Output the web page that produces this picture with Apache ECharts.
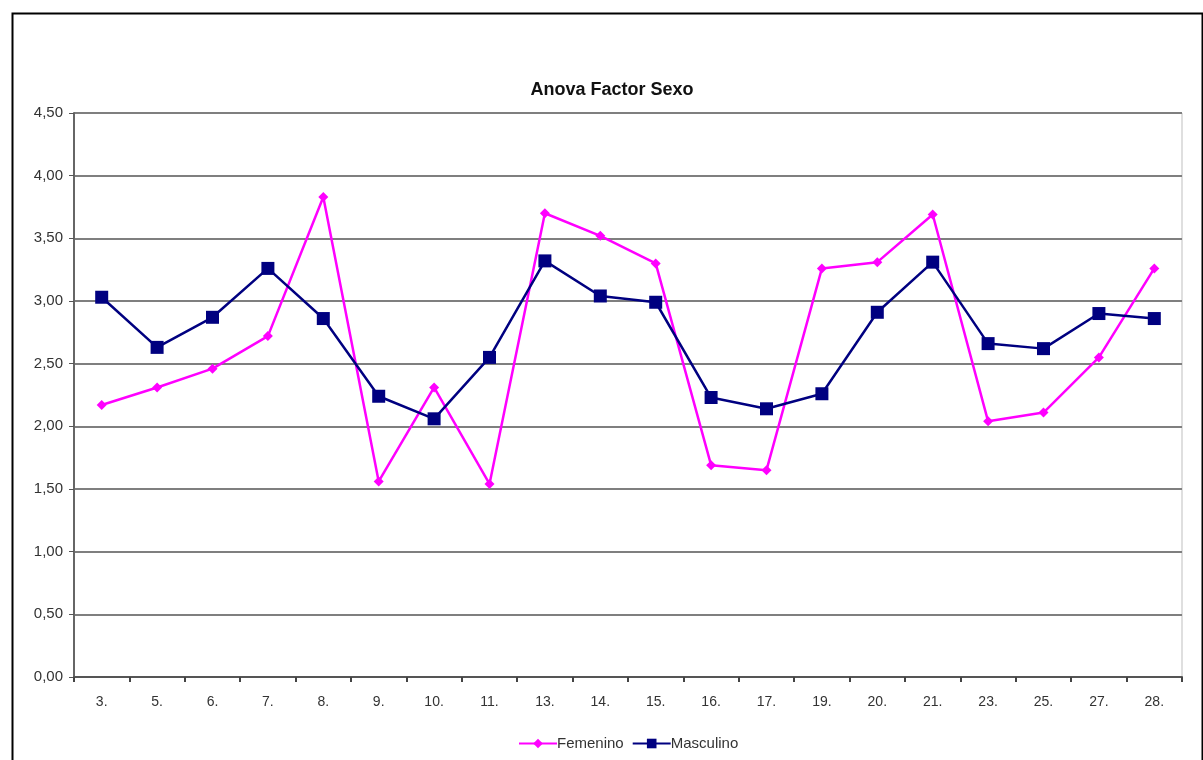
<!DOCTYPE html>
<html>
<head>
<meta charset="utf-8">
<script src="https://cdn.jsdelivr.net/npm/echarts@6/dist/echarts.min.js"></script>
<style>
html,body{margin:0;padding:0;background:#fff;}
#chart{width:1203px;height:760px;}
</style>
</head>
<body>
<div id="chart"></div>
<script>
var categories = ['3.','5.','6.','7.','8.','9.','10.','11.','13.','14.','15.','16.','17.','19.','20.','21.','23.','25.','27.','28.'];
var femenino = [2.17,2.31,2.46,2.72,3.83,1.56,2.31,1.54,3.70,3.52,3.30,1.69,1.65,3.26,3.31,3.69,2.04,2.11,2.55,3.26];
var masculino = [3.03,2.63,2.87,3.26,2.86,2.24,2.06,2.55,3.32,3.04,2.99,2.23,2.14,2.26,2.91,3.31,2.66,2.62,2.90,2.86];

var chart = echarts.init(document.getElementById('chart'));
chart.setOption({
  animation: false,
  textStyle: {fontFamily: 'Liberation Sans, Arial, sans-serif'},
  graphic: [{
    type: 'rect', left: 10, top: 11, z: 100,
    shape: {width: 1190, height: 800},
    style: {fill: 'none', stroke: '#000', lineWidth: 2}
  }],
  title: {
    text: 'Anova Factor Sexo', left: 607, top: 76, textAlign: 'center',
    textStyle: {fontSize: 18, fontWeight: 'bold', color: '#111', fontFamily: 'Liberation Sans, Arial, sans-serif'}
  },
  legend: {
    top: 731, left: 513, itemGap: 8, itemWidth: 38, itemHeight: 12,
    textStyle: {fontSize: 15, color: '#333', padding: [0,0,0,-5]},
    data: ['Femenino','Masculino']
  },
  grid: {left: 74, right: 21, top: 113, bottom: 83, show: true, borderColor: '#bfbfbf', borderWidth: 1},
  xAxis: {
    type: 'category', data: categories, boundaryGap: true,
    axisLine: {lineStyle: {color: '#555', width: 2}},
    axisTick: {show: true, length: 5, lineStyle: {color: '#444', width: 2}},
    axisLabel: {fontSize: 14, color: '#333', margin: 18}
  },
  yAxis: {
    type: 'value', min: 0, max: 4.5, interval: 0.5,
    axisLine: {show: true, lineStyle: {color: '#666', width: 2}},
    axisTick: {show: true, length: 5, lineStyle: {color: '#555'}},
    axisLabel: {fontSize: 15, color: '#333', margin: 11, formatter: function(v){return v.toFixed(2).replace('.', ',');}},
    splitLine: {lineStyle: {color: '#7f7f7f', width: 2}}
  },
  series: [{
    name: 'Femenino', type: 'line', data: femenino,
    symbol: 'diamond', symbolSize: 10,
    lineStyle: {color: '#ff00ff', width: 2.5},
    itemStyle: {color: '#ff00ff'}
  },{
    name: 'Masculino', type: 'line', data: masculino,
    symbol: 'rect', symbolSize: 13,
    lineStyle: {color: '#000080', width: 2.5},
    itemStyle: {color: '#000080'}
  }]
});
</script>
</body>
</html>
